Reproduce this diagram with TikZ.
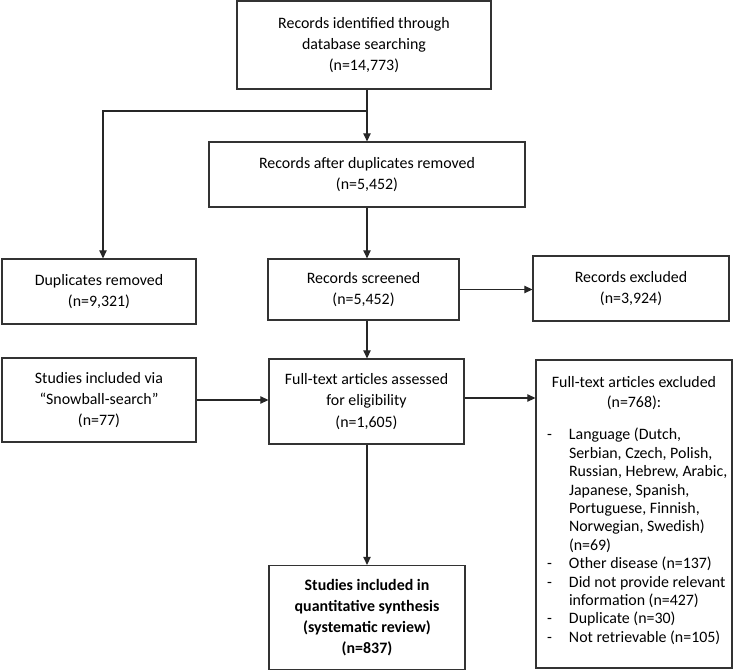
\documentclass[tikz,border=0pt]{standalone}
\usepackage{fontspec}
\setmainfont{Carlito}
\usetikzlibrary{arrows.meta}
\tikzset{
  box/.style={draw=black!80, line width=1.3pt, inner sep=0pt, align=center,
    font=\fontsize{15.9}{21.3}\selectfont},
  arr/.style={draw=black!85, line width=1.2pt, -{Triangle[length=8pt,width=7.5pt]}},
  ln/.style={draw=black!85, line width=1.2pt}
}
\begin{document}
\begin{tikzpicture}[x=1pt,y=-1pt]
\useasboundingbox (0,0) rectangle (733,671);

\node[box, minimum width=254pt, minimum height=88pt] (b1) at (364,45)
  {Records identified through\\database searching\\(n=14,773)};
\node[box, minimum width=316pt, minimum height=65pt] (b2) at (367,174.5)
  {Records after duplicates removed\\(n=5,452)};
\node[box, minimum width=194pt, minimum height=65pt] (dup) at (99,291.5)
  {Duplicates removed\\(n=9,321)};
\node[box, minimum width=191pt, minimum height=61pt] (scr) at (363.5,289.5)
  {Records screened\\(n=5,452)};
\node[box, minimum width=196pt, minimum height=65pt] (rex) at (631,288.5)
  {Records excluded\\(n=3,924)};
\node[box, minimum width=194pt, minimum height=84pt] (snow) at (99,400)
  {Studies included via\\“Snowball-search”\\(n=77)};
\node[box, minimum width=195pt, minimum height=85pt] (fta) at (366.5,401.5)
  {Full-text articles assessed\\for eligibility\\(n=1,605)};
\node[box, minimum width=196pt, minimum height=308pt] (fte) at (634,514)
  {\parbox[c][308pt][t]{174pt}{%
   \fontsize{15.9}{20}\selectfont\centering
   \rule{0pt}{27pt}Full-text articles excluded\\(n=768):\par
   \vspace{14.5pt}
   \fontsize{15.9}{18.4}\selectfont\raggedright
   \begin{tabular}[t]{@{}p{22pt}@{}l@{}}
   -& Language (Dutch,\\
    & Serbian, Czech, Polish,\\
    & Russian, Hebrew, Arabic,\\
    & Japanese, Spanish,\\
    & Portuguese, Finnish,\\
    & Norwegian, Swedish)\\
    & (n=69)\\
   -& Other disease (n=137)\\
   -& Did not provide relevant\\
    & information (n=427)\\
   -& Duplicate (n=30)\\
   -& Not retrievable (n=105)
   \end{tabular}}};
\node[box, minimum width=196pt, minimum height=104pt, font=\fontsize{15.9}{21}\selectfont\bfseries] (fin) at (367,617.5)
  {Studies included in\\quantitative synthesis\\(systematic review)\\(n=837)};

\coordinate (br) at (367,111);
\draw[ln] (b1.south -| br) -- (br);
\draw[arr] (br) -- (br |- b2.north);
\draw[arr] (br) -| ([xshift=4pt]dup.north);
\draw[arr] (b2.south -| br) -- (br |- scr.north);
\draw[arr] (scr.east) -- (scr.east -| rex.west);
\draw[arr] (scr.south -| br) -- (br |- fta.north);
\draw[arr] (snow.east) -- (snow.east -| fta.west);
\draw[arr] ([yshift=3.5pt]fta.east) -- ([yshift=3.5pt]fta.east -| fte.west);
\draw[arr] (fta.south -| br) -- (br |- fin.north);
\end{tikzpicture}
\end{document}
